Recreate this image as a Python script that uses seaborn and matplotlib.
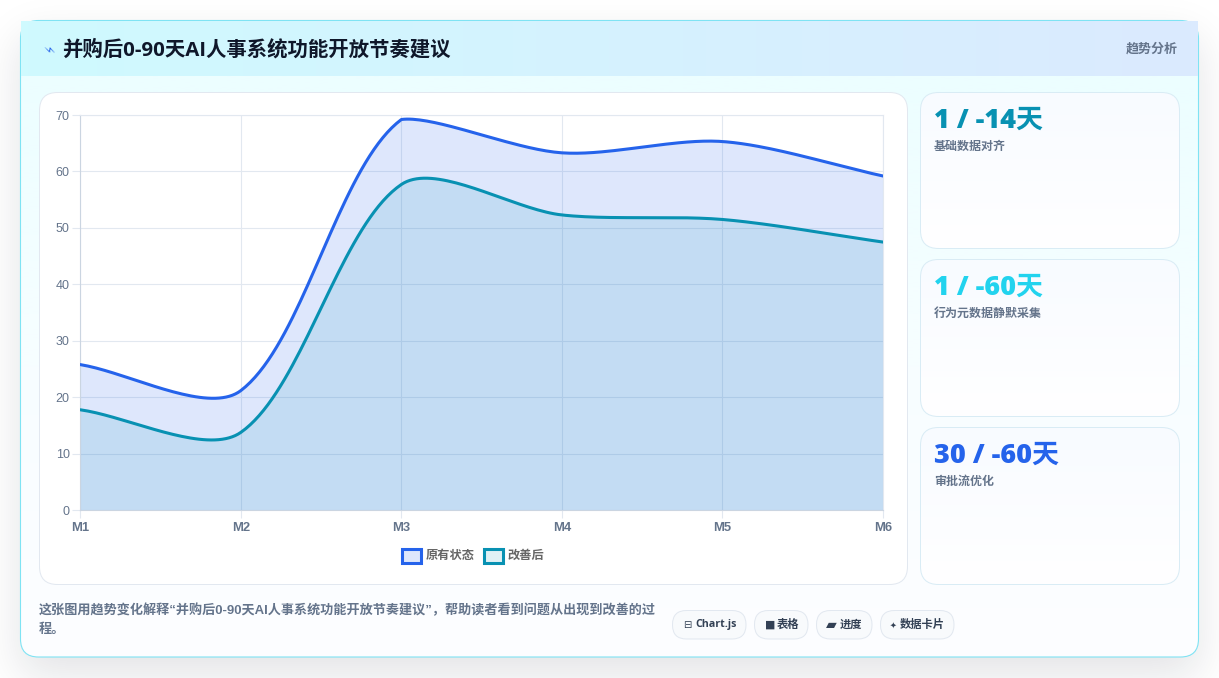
import numpy as np
import pandas as pd
import seaborn as sns
import matplotlib
matplotlib.use("Agg")
import matplotlib.pyplot as plt
from matplotlib.patches import FancyBboxPatch, Rectangle
from matplotlib.colors import LinearSegmentedColormap

# Chart data
months = ["M1", "M2", "M3", "M4", "M5", "M6"]
before_values = [25.8, 21.2, 69.2, 63.3, 65.3, 59.2]
after_values = [17.8, 13.8, 57.7, 52.3, 51.5, 47.5]
series_names = ["原有状态", "改善后"]
y_ticks = [0, 10, 20, 30, 40, 50, 60, 70]

# Page text
title = "并购后0-90天AI人事系统功能开放节奏建议"
badge = "趋势分析"
stat_values = ["1 / -14天", "1 / -60天", "30 / -60天"]
stat_labels = ["基础数据对齐", "行为元数据静默采集", "审批流优化"]
stat_colors = ["#0891b2", "#22d3ee", "#2563eb"]
note_lines = ["这张图用趋势变化解释“并购后0-90天AI人事系统功能开放节奏建议”，帮助读者看到问题从出现到改善的过",
              "程。"]
chips = [("⊟", "Chart.js"), ("■", "表格"), ("▰", "进度"), ("✦", "数据卡片")]

BLUE = "#2563eb"
TEAL = "#0891b2"
W, H = 1219, 678
PX = 0.72

sns.set_theme(style="white")
plt.rcParams["font.family"] = ["Noto Sans", "Noto Sans CJK SC", "DejaVu Sans"]
CJK = ["Noto Sans CJK SC", "DejaVu Sans"]
MIXED = ["Open Sans", "Noto Sans CJK SC", "DejaVu Sans"]
ARIAL = ["Liberation Sans", "Noto Sans CJK SC", "DejaVu Sans"]

fig = plt.figure(figsize=(W / 100, H / 100), dpi=100, facecolor="white")

# Full-figure page layer in pixel units
page = fig.add_axes([0, 0, 1, 1], zorder=0)
page.set_xlim(0, W)
page.set_ylim(H, 0)
page.axis("off")


def soft_profile(n, a, b, sigma):
    """Gaussian-softened box profile along one axis."""
    r = int(sigma * 4)
    s = np.zeros(n + 2 * r)
    s[a + r:b + r] = 1
    k = np.exp(-0.5 * (np.arange(-r, r + 1) / sigma) ** 2)
    k /= k.sum()
    return np.convolve(s, k, mode="same")[r:r + n]


def round_box(x0, y0, x1, y1, r, **kw):
    box = FancyBboxPatch((x0 + r, y0 + r), x1 - x0 - 2 * r, y1 - y0 - 2 * r,
                         boxstyle=f"round,pad={r},rounding_size={r}", **kw)
    page.add_patch(box)
    return box


def gradient(x0, y0, x1, y1, colors, horizontal=False, clip=None, z=1):
    cmap = LinearSegmentedColormap.from_list("g", colors)
    g = np.linspace(0, 1, 256)
    g = g[None, :] if horizontal else g[:, None]
    im = page.imshow(g, cmap=cmap, extent=(x0, x1, y1, y0), aspect="auto",
                     interpolation="bilinear", zorder=z)
    if clip is not None:
        im.set_clip_path(clip)
    return im


# Soft drop shadow behind the panel
alpha = np.outer(soft_profile(H, 38, 675, 22), soft_profile(W, 20, 1198, 22)) * 0.12
shadow = np.zeros((H, W, 4))
shadow[..., :3] = matplotlib.colors.to_rgb("#0f172a")
shadow[..., 3] = alpha
page.imshow(shadow, extent=(0, W, H, 0), aspect="auto", interpolation="nearest", zorder=0)

# Main panel
panel = round_box(20.5, 20.5, 1198.5, 657, 18, fc="white", ec="none", zorder=0.5)
gradient(20, 76, 1199, 657, ["#ecfeff", "#f7feff", "#fdfdff"], clip=panel, z=1)
gradient(21, 21, 1198, 76, ["#cffafe", "#dbeafe"], horizontal=True, z=1.2)
round_box(20.5, 20.5, 1198.5, 657, 18, fc="none", ec="#7fe3f3", lw=0.8, zorder=1.1)

page.text(47, 50, "⚡", family=["DejaVu Sans"], fontsize=9, rotation=-85, color=BLUE,
          ha="center", va="center", zorder=3)
page.text(62.5, 50.5, title, family=MIXED, weight="bold", fontsize=20.4 * PX, color="#0f172a",
          ha="left", va="center", zorder=3)
page.text(1178, 48.5, badge, family=CJK, weight="bold", fontsize=13 * PX, color="#64748b",
          ha="right", va="center", zorder=3)

# Chart card
round_box(39.5, 92.5, 907.5, 584.5, 18, fc="white", ec="#e2e8f0", lw=0.72, zorder=2)

# Stat cards
card_tops = [92.5, 259.5, 427.5]
card_bottoms = [248.5, 416.5, 584.5]
for top, bottom, value, label, color in zip(card_tops, card_bottoms, stat_values, stat_labels, stat_colors):
    box = round_box(920.5, top, 1179.5, bottom, 18, fc="white", ec="none", zorder=2)
    gradient(920, top, 1180, bottom, ["#f8fbff", "#ffffff"], clip=box, z=2.1)
    round_box(920.5, top, 1179.5, bottom, 18, fc="none", ec="#d9ecf5", lw=0.72, zorder=2.2)
    page.text(934.5, top + 28, value, family=MIXED, weight=800, fontsize=27 * PX, color=color,
              ha="left", va="center", zorder=3)
    page.text(934, top + 53.5, label, family=CJK, weight="bold", fontsize=12 * PX, color="#64748b",
              ha="left", va="center", zorder=3)

# Footnote
for y, line in zip([610, 630], note_lines):
    page.text(39, y, line, family=ARIAL, weight="bold", fontsize=13.1 * PX, color="#64748b",
              ha="left", va="center", zorder=3)

# Tool chips
chip_spans = [(672.5, 746), (754.5, 808), (816.5, 872), (880.5, 954)]
chip_text_x = [695, 777, 840, 900]
chip_icon_x = [683, 765, 826, 890]
chip_icon_sizes = [10, 11, 14, 8]
chip_text_sizes = [10.6, 11.3, 11.3, 11.3]
for (x0, x1), tx, ix, isz, tsz, (icon, label) in zip(chip_spans, chip_text_x, chip_icon_x,
                                                    chip_icon_sizes, chip_text_sizes, chips):
    round_box(x0, 610.5, x1, 639, 14, fc="#f8fafc", ec="#e2e8f0", lw=0.72, zorder=2)
    page.text(ix, 625, icon, family=["DejaVu Sans"], fontsize=isz * PX, color="#334155",
              ha="left", va="center", zorder=3)
    page.text(tx, 625, label, family=MIXED, weight="bold", fontsize=tsz * PX, color="#334155",
              ha="left", va="center", zorder=3)

# Legend swatches and labels
for x, name, color, alpha_fill, tx in zip([402, 484], series_names, [BLUE, TEAL], [0.15, 0.12], [426, 508]):
    page.add_patch(Rectangle((x, 549), 18.5, 13.5, fc=matplotlib.colors.to_rgba(color, alpha_fill),
                             ec=color, lw=2.2, zorder=3))
    page.text(tx, 555, name, family=CJK, weight="bold", fontsize=12.2 * PX, color="#666666",
              ha="left", va="center", zorder=3)

# Plot area
ax = fig.add_axes([80.3 / W, 1 - 510.3 / H, (883 - 80.3) / W, (510.3 - 115) / H], zorder=2)
ax.patch.set_alpha(0)
ax.set_xlim(0, len(months) - 1)
ax.set_ylim(0, 70)


def tension_curve(values, tension=0.3, steps=40):
    """Cubic Bezier path through the values, with control points set in pixel space."""
    x_pts = np.arange(len(values), dtype=float)
    pts = ax.transData.transform(np.column_stack([x_pts, values]))
    n = len(pts)
    before = pts.copy()
    after = pts.copy()
    for i in range(n):
        prev_pt = pts[max(i - 1, 0)]
        next_pt = pts[min(i + 1, n - 1)]
        d01 = np.linalg.norm(pts[i] - prev_pt)
        d12 = np.linalg.norm(next_pt - pts[i])
        span = next_pt - prev_pt
        before[i] = pts[i] - tension * d01 / (d01 + d12) * span
        after[i] = pts[i] + tension * d12 / (d01 + d12) * span
    box = ax.transData.transform([(0, 0), (len(values) - 1, 70)])
    t = np.linspace(0, 1, steps)[:, None]
    out = [pts[:1]]
    for i in range(n - 1):
        c1 = np.clip(after[i], box[0], box[1])
        c2 = np.clip(before[i + 1], box[0], box[1])
        seg = ((1 - t) ** 3) * pts[i] + 3 * ((1 - t) ** 2) * t * c1 + 3 * (1 - t) * t ** 2 * c2 + t ** 3 * pts[i + 1]
        out.append(seg[1:])
    return ax.transData.inverted().transform(np.vstack(out))


curves = []
for name, values in zip(series_names, [before_values, after_values]):
    xy = tension_curve(values)
    curves.append(pd.DataFrame({"x": xy[:, 0], "y": xy[:, 1], "series": name}))
curve_table = pd.concat(curves, ignore_index=True)

# Fills first, then the outlines on top
for name, color, a in zip(series_names, [BLUE, TEAL], [0.15, 0.12]):
    part = curve_table[curve_table["series"] == name]
    ax.fill_between(part["x"], 0, part["y"], color=color, alpha=a, lw=0, zorder=2)

sns.lineplot(data=curve_table, x="x", y="y", hue="series", hue_order=series_names,
             palette=[BLUE, TEAL], estimator=None, sort=False, linewidth=2.2,
             legend=False, ax=ax, zorder=3)

ax.set_xlabel("")
ax.set_ylabel("")
ax.set_xticks(range(len(months)), months)
ax.set_yticks(y_ticks)
ax.grid(True, color="#e2e8f0", lw=0.8)
ax.set_axisbelow(True)
for side, spine in ax.spines.items():
    spine.set_visible(True)
    spine.set_color("#cbd5e1" if side in ("left", "bottom") else "#e2e8f0")
    spine.set_linewidth(0.8)
ax.tick_params(axis="both", length=5.7, width=0.8, color="#e2e8f0", left=True, bottom=True)
ax.tick_params(axis="x", pad=3)
ax.tick_params(axis="y", pad=2)
for lab in ax.get_yticklabels():
    lab.set(family=ARIAL, fontsize=12.5 * PX, color="#64748b")
for lab in ax.get_xticklabels():
    lab.set(family=ARIAL, fontsize=13 * PX, color="#64748b", weight="bold")

fig.savefig("out.png", dpi=100)
